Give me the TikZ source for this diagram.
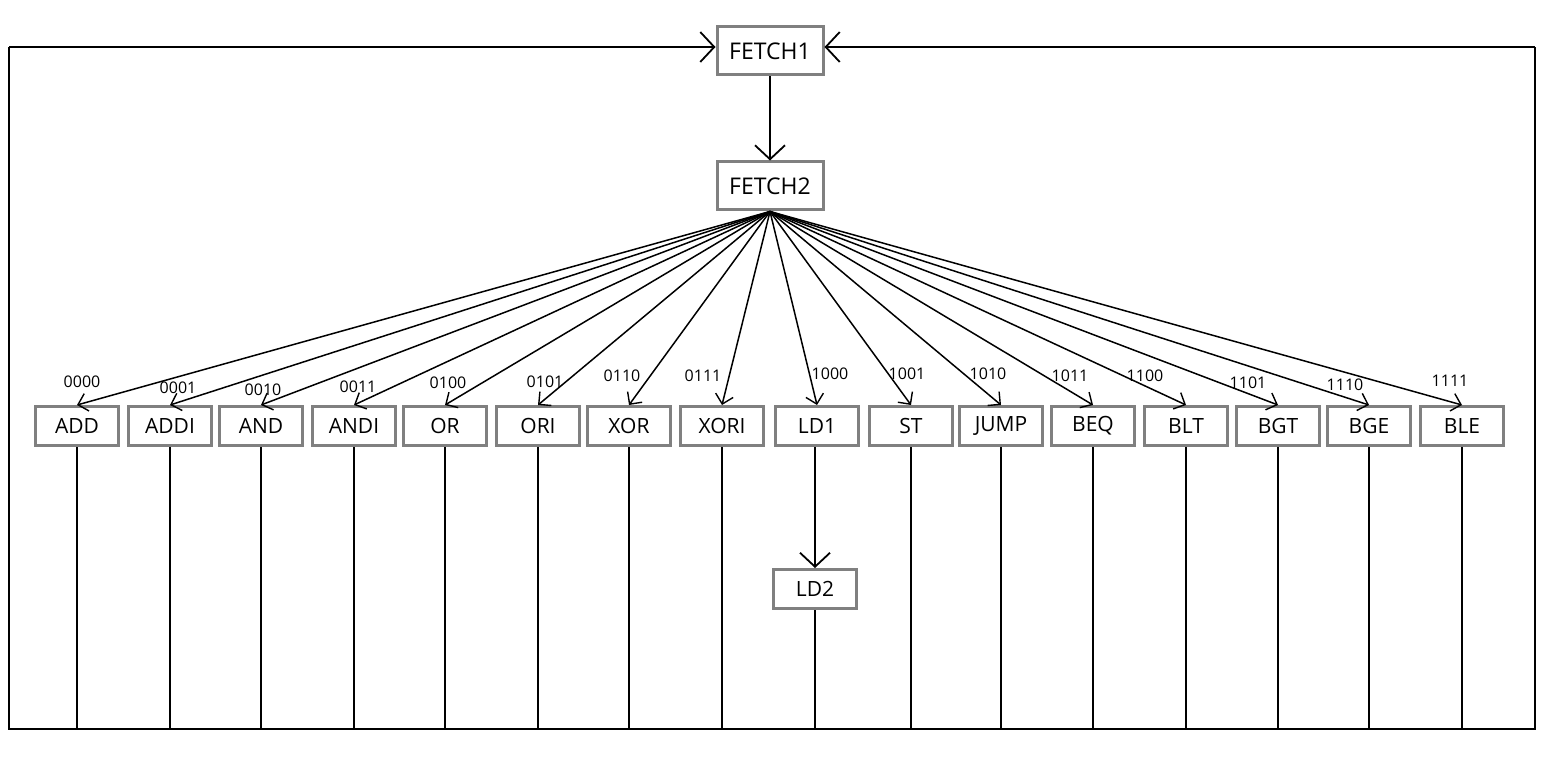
\documentclass[tikz,border=0pt]{standalone}
\usepackage{fontspec}
\setmainfont{Open Sans}
\usetikzlibrary{arrows.meta}

\tikzset{
	state/.style={draw=gray, line width=3pt, fill=white, inner sep=0pt,
		minimum width=83pt, minimum height=39pt, font=\fontsize{21}{24}\selectfont},
	fetchbox/.style={state, minimum width=106pt, minimum height=48pt,
		font=\fontsize{23}{26}\selectfont},
	code/.style={font=\fontsize{16}{18}\selectfont, inner sep=1pt},
	wire/.style={line width=2.2pt},
	bigarrow/.style={wire, -{Straight Barb[length=14pt,width=30pt,line width=1.8pt]}},
	fanarrow/.style={line width=1.5pt, -{Straight Barb[length=9pt,width=18pt,line width=1.4pt]}}
}

\begin{document}
\begin{tikzpicture}[x=1pt,y=-1pt]
		\useasboundingbox (0,0) rectangle (1552,759);
		% fetch
		\node[fetchbox] (fetch1) at (770,51) {FETCH1};
		\node[fetchbox] (fetch2) at (770,186) {FETCH2};
		\draw[bigarrow] (fetch1.south) -- (fetch2.north);
		% states
		\node[state] (add) at (77,426) {ADD};
		\node[state] (addi) at (170,426) {ADDI};
		\node[state] (and) at (261,426) {AND};
		\node[state] (andi) at (354,426) {ANDI};
		\node[state] (or) at (445,426) {OR};
		\node[state] (ori) at (538,426) {ORI};
		\node[state] (xor) at (629,426) {XOR};
		\node[state] (xori) at (722,426) {XORI};
		\node[state] (ld1) at (817,426) {LD1};
		\node[state] (st) at (911,426) {ST};
		\node[state] (jump) at (1001,426) {JUMP};
		\node[state] (beq) at (1093,426) {BEQ};
		\node[state] (blt) at (1186,426) {BLT};
		\node[state] (bgt) at (1278,426) {BGT};
		\node[state] (bge) at (1369,426) {BGE};
		\node[state] (ble) at (1462,426) {BLE};
		\node[state] (ld2) at (815,589) {LD2};
		% opcodes
		\node[code] (c0) at (82,382) {0000};
		\node[code] (c1) at (178,388) {0001};
		\node[code] (c2) at (263,390) {0010};
		\node[code] (c3) at (358,387) {0011};
		\node[code] (c4) at (448,383) {0100};
		\node[code] (c5) at (545,382) {0101};
		\node[code] (c6) at (622,376) {0110};
		\node[code] (c7) at (703,376) {0111};
		\node[code] (c8) at (830,374) {1000};
		\node[code] (c9) at (907,374) {1001};
		\node[code] (c10) at (988,374) {1010};
		\node[code] (c11) at (1070,376) {1011};
		\node[code] (c12) at (1145,376) {1100};
		\node[code] (c13) at (1248,383) {1101};
		\node[code] (c14) at (1345,385) {1110};
		\node[code] (c15) at (1450,381) {1111};
		% decode
		\draw[fanarrow] (fetch2.south) -- (add.north);
		\draw[fanarrow] (fetch2.south) -- (addi.north);
		\draw[fanarrow] (fetch2.south) -- (and.north);
		\draw[fanarrow] (fetch2.south) -- (andi.north);
		\draw[fanarrow] (fetch2.south) -- (or.north);
		\draw[fanarrow] (fetch2.south) -- (ori.north);
		\draw[fanarrow] (fetch2.south) -- (xor.north);
		\draw[fanarrow] (fetch2.south) -- (xori.north);
		\draw[fanarrow] (fetch2.south) -- (ld1.north);
		\draw[fanarrow] (fetch2.south) -- (st.north);
		\draw[fanarrow] (fetch2.south) -- (jump.north);
		\draw[fanarrow] (fetch2.south) -- (beq.north);
		\draw[fanarrow] (fetch2.south) -- (blt.north);
		\draw[fanarrow] (fetch2.south) -- (bgt.north);
		\draw[fanarrow] (fetch2.south) -- (bge.north);
		\draw[fanarrow] (fetch2.south) -- (ble.north);
		\draw[bigarrow] (ld2.north |- ld1.south) -- (ld2.north);
		% return to fetch1
		\coordinate (tl) at (9,47);
		\coordinate (bl) at (9,729);
		\coordinate (br) at (1535,729);
		\coordinate (tr) at (1535,47);
		\draw[wire] (tl) -- (bl) -- (br) -- (tr);
		\draw[bigarrow] (tl) -- (fetch1.west |- tl);
		\draw[bigarrow] (tr) -- (fetch1.east |- tr);
		\draw[wire] (add.south) -- (add.south |- bl);
		\draw[wire] (addi.south) -- (addi.south |- bl);
		\draw[wire] (and.south) -- (and.south |- bl);
		\draw[wire] (andi.south) -- (andi.south |- bl);
		\draw[wire] (or.south) -- (or.south |- bl);
		\draw[wire] (ori.south) -- (ori.south |- bl);
		\draw[wire] (xor.south) -- (xor.south |- bl);
		\draw[wire] (xori.south) -- (xori.south |- bl);
		\draw[wire] (ld2.south) -- (ld2.south |- bl);
		\draw[wire] (st.south) -- (st.south |- bl);
		\draw[wire] (jump.south) -- (jump.south |- bl);
		\draw[wire] (beq.south) -- (beq.south |- bl);
		\draw[wire] (blt.south) -- (blt.south |- bl);
		\draw[wire] (bgt.south) -- (bgt.south |- bl);
		\draw[wire] (bge.south) -- (bge.south |- bl);
		\draw[wire] (ble.south) -- (ble.south |- bl);
	\end{tikzpicture}
\end{document}
